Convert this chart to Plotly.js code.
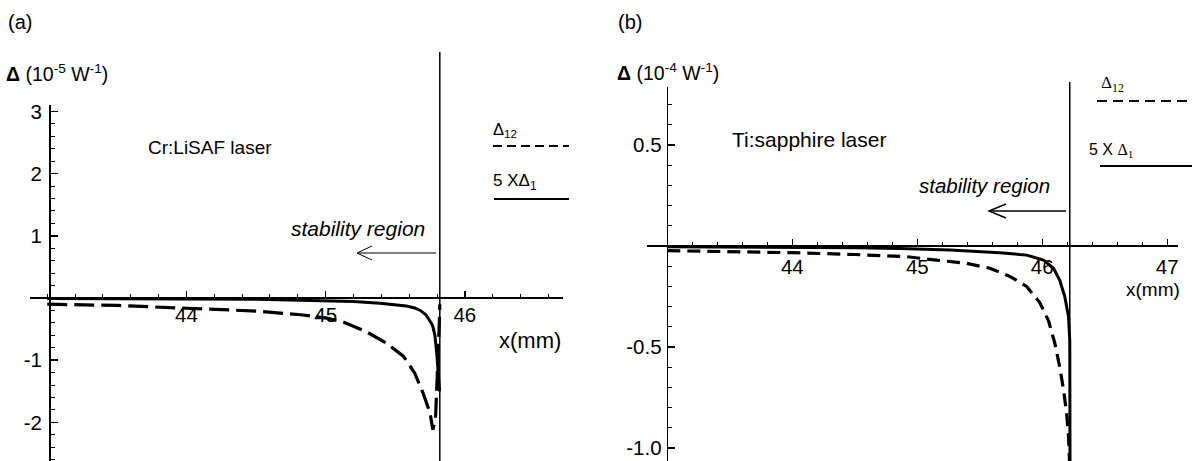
<!DOCTYPE html>
<html>
<head>
<meta charset="utf-8">
<script src="https://cdn.plot.ly/plotly-3.0.1.min.js"></script>
<style>
  html, body { margin: 0; padding: 0; background: #fff; }
  #grafico { width: 1192px; height: 461px; }
</style>
</head>
<body>
<div id="grafico"></div>
<script>
// panel (a): Cr:LiSAF laser, units 10^-5 W^-1
const xSolidA = [43.0, 43.5, 44.0, 44.5, 44.82, 45.0, 45.2, 45.39, 45.5, 45.58, 45.64, 45.68, 45.72, 45.74, 45.76, 45.77, 45.785, 45.80, 45.81, 45.818];
const ySolidA = [-0.01, -0.012, -0.015, -0.022, -0.035, -0.04, -0.055, -0.085, -0.105, -0.13, -0.16, -0.2, -0.27, -0.33, -0.41, -0.46, -0.6, -0.94, -1.2, -1.5];
const xDashA = [43.0, 43.5, 44.0, 44.5, 44.82, 45.0, 45.13, 45.29, 45.44, 45.56, 45.64, 45.70, 45.75, 45.77, 45.79, 45.805, 45.815, 45.82];
const yDashA = [-0.10, -0.12, -0.165, -0.21, -0.27, -0.32, -0.39, -0.54, -0.73, -0.94, -1.21, -1.53, -1.85, -2.12, -1.9, -1.2, -0.5, -0.1];

// panel (b): Ti:sapphire laser, units 10^-4 W^-1
const xSolidB = [43.0, 43.5, 44.0, 44.5, 44.86, 45.26, 45.66, 45.875, 46.01, 46.09, 46.14, 46.18, 46.21, 46.22, 46.222];
const ySolidB = [-0.004, -0.005, -0.006, -0.008, -0.012, -0.02, -0.033, -0.045, -0.07, -0.11, -0.17, -0.25, -0.35, -0.47, -1.1];
const xDashB = [43.0, 43.5, 44.0, 44.5, 44.915, 45.155, 45.395, 45.58, 45.74, 45.875, 45.98, 46.05, 46.10, 46.14, 46.17, 46.195, 46.21, 46.22];
const yDashB = [-0.023, -0.027, -0.033, -0.042, -0.053, -0.07, -0.086, -0.11, -0.15, -0.2, -0.28, -0.37, -0.48, -0.6, -0.71, -0.83, -0.94, -1.1];

// stability boundaries (mm)
const bordeA = 45.82;
const bordeB = 46.22;

// tick labels
const xTicksA = [44, 45, 46];
const yTicksA = [3, 2, 1, -1, -2];
const yTextA = ['3', '2', '1', '-1', '-2'];
const xTicksB = [44, 45, 46, 47];
const yTicksB = [0.5, -0.5, -1.0];
const yTextB = ['0.5', '-0.5', '-1.0'];

const W = 1192, H = 461;
const px = v => v / W;
const py = v => 1 - v / H;

const sans = 'Liberation Sans, Arial, sans-serif';
const serif = 'Liberation Serif, Times New Roman, serif';

let data = [
    { x: xDashA, y: yDashA, xaxis: 'x', yaxis: 'y', mode: 'lines', line: { color: 'black', width: 3.2, dash: '20px,7px' } },
    { x: xSolidA, y: ySolidA, xaxis: 'x', yaxis: 'y', mode: 'lines', line: { color: 'black', width: 3 } },
    { x: xDashB, y: yDashB, xaxis: 'x2', yaxis: 'y2', mode: 'lines', line: { color: 'black', width: 3.2, dash: '13px,7px' } },
    { x: xSolidB, y: ySolidB, xaxis: 'x2', yaxis: 'y2', mode: 'lines', line: { color: 'black', width: 3 } }
];

let ejeX = {
    anchor: 'free', showgrid: false, zeroline: false, showline: false,
    ticks: 'inside', ticklen: 7, tickwidth: 1.5, tickcolor: 'black',
    tickmode: 'array',
    tickfont: { family: sans, size: 20.5, color: 'black' },
    minor: { tickmode: 'linear', tick0: 43, dtick: 0.2, ticks: 'inside', ticklen: 4, tickwidth: 1, tickcolor: 'black' }
};
let ejeY = {
    anchor: 'free', showgrid: false, showline: true, linecolor: 'black', linewidth: 1.5,
    zeroline: true, zerolinecolor: 'black', zerolinewidth: 1.8,
    ticks: 'inside', ticklen: 7, tickwidth: 1.5, tickcolor: 'black',
    tickmode: 'array',
    tickfont: { family: sans, size: 20.5, color: 'black' }
};

let layout = {
    width: W, height: H,
    margin: { l: 0, r: 0, t: 0, b: 0 },
    showlegend: false,
    font: { family: sans, color: 'black' },
    paper_bgcolor: 'white', plot_bgcolor: 'white',
    xaxis: Object.assign({}, ejeX, {
        domain: [px(30), px(563)], range: [42.876, 46.705],
        position: py(298), tickvals: xTicksA, ticktext: xTicksA.map(String),
        ticklabelstandoff: 2
    }),
    yaxis: Object.assign({}, ejeY, {
        domain: [0, py(105)], range: [-2.621, 3.103],
        position: px(49), tickvals: yTicksA, ticktext: yTextA,
        ticklabelstandoff: 3,
        minor: { tickmode: 'linear', tick0: 0, dtick: 0.2, ticks: 'inside', ticklen: 4, tickwidth: 1, tickcolor: 'black' }
    }),
    xaxis2: Object.assign({}, ejeX, {
        domain: [px(646.7), px(1178)], range: [42.835, 47.086],
        position: py(246), tickvals: xTicksB, ticktext: xTicksB.map(String),
        ticklabelstandoff: 6
    }),
    yaxis2: Object.assign({}, ejeY, {
        domain: [0, py(87)], range: [-1.064, 0.787],
        position: px(666.7), tickvals: yTicksB, ticktext: yTextB,
        ticklabelstandoff: 1,
        minor: { tickmode: 'linear', tick0: 0, dtick: 0.1, ticks: 'inside', ticklen: 4, tickwidth: 1, tickcolor: 'black' }
    }),
    shapes: [
        // stability boundaries
        { type: 'line', xref: 'x', yref: 'paper', x0: bordeA, x1: bordeA, y0: 0, y1: py(52), line: { color: 'black', width: 1.5 } },
        { type: 'line', xref: 'x2', yref: 'paper', x0: bordeB, x1: bordeB, y0: 0, y1: py(82), line: { color: 'black', width: 1.5 } },
        // arrows
        { type: 'line', xref: 'paper', yref: 'paper', x0: px(436), x1: px(358), y0: py(253), y1: py(253), line: { color: 'black', width: 1 } },
        { type: 'path', xref: 'paper', yref: 'paper', path: `M ${px(372)} ${py(246)} L ${px(357)} ${py(253)} L ${px(372)} ${py(260)}`, line: { color: 'black', width: 1 } },
        { type: 'line', xref: 'paper', yref: 'paper', x0: px(1066), x1: px(990), y0: py(211), y1: py(211), line: { color: 'black', width: 1.5 } },
        { type: 'path', xref: 'paper', yref: 'paper', path: `M ${px(1006)} ${py(204)} L ${px(989)} ${py(211)} L ${px(1006)} ${py(218)}`, line: { color: 'black', width: 1.5 } },
        // legend samples
        { type: 'line', xref: 'paper', yref: 'paper', x0: px(493), x1: px(569), y0: py(146), y1: py(146), line: { color: 'black', width: 2, dash: '9px,5px' } },
        { type: 'line', xref: 'paper', yref: 'paper', x0: px(494), x1: px(569), y0: py(199), y1: py(199), line: { color: 'black', width: 2 } },
        { type: 'line', xref: 'paper', yref: 'paper', x0: px(1097), x1: px(1192), y0: py(101), y1: py(101), line: { color: 'black', width: 2, dash: '10px,6px' } },
        { type: 'line', xref: 'paper', yref: 'paper', x0: px(1100), x1: px(1192), y0: py(166), y1: py(166), line: { color: 'black', width: 2 } }
    ],
    annotations: [
        { text: '(a)', x: px(6), y: py(22), xanchor: 'left', font: { size: 20 } },
        { text: '(b)', x: px(616), y: py(22), xanchor: 'left', font: { size: 20 } },
        { text: '<b>Δ</b> (10<sup>-5</sup> W<sup>-1</sup>)', x: px(4), y: py(73), xanchor: 'left', font: { size: 19.5 } },
        { text: '<b>Δ</b> (10<sup>-4</sup> W<sup>-1</sup>)', x: px(615), y: py(72), xanchor: 'left', font: { size: 19.5 } },
        { text: 'Cr:LiSAF laser', x: px(146), y: py(147), xanchor: 'left', font: { size: 19 } },
        { text: 'Ti:sapphire laser', x: px(730), y: py(140), xanchor: 'left', font: { size: 21 } },
        { text: '<i>stability region</i>', x: px(289), y: py(228), xanchor: 'left', font: { size: 21 } },
        { text: '<i>stability region</i>', x: px(917), y: py(186), xanchor: 'left', font: { size: 20.5 } },
        { text: 'x(mm)', x: px(497), y: py(340), xanchor: 'left', font: { size: 22 } },
        { text: 'x(mm)', x: px(1124), y: py(289), xanchor: 'left', font: { size: 19 } },
        { text: 'Δ<sub>12</sub>', x: px(491), y: py(130), xanchor: 'left', font: { size: 16.5 } },
        { text: '5 XΔ<sub>1</sub>', x: px(491), y: py(182), xanchor: 'left', font: { size: 17 } },
        { text: 'Δ<sub>12</sub>', x: px(1099), y: py(84), xanchor: 'left', font: { family: serif, size: 17 } },
        { text: '5 X <span style="font-family:Liberation Serif">Δ<sub>1</sub></span>', x: px(1087), y: py(150), xanchor: 'left', font: { size: 16 } }
    ].map(a => Object.assign({ xref: 'paper', yref: 'paper', showarrow: false, yanchor: 'middle' }, a))
};

Plotly.newPlot('grafico', data, layout, { staticPlot: true });
</script>
</body>
</html>
